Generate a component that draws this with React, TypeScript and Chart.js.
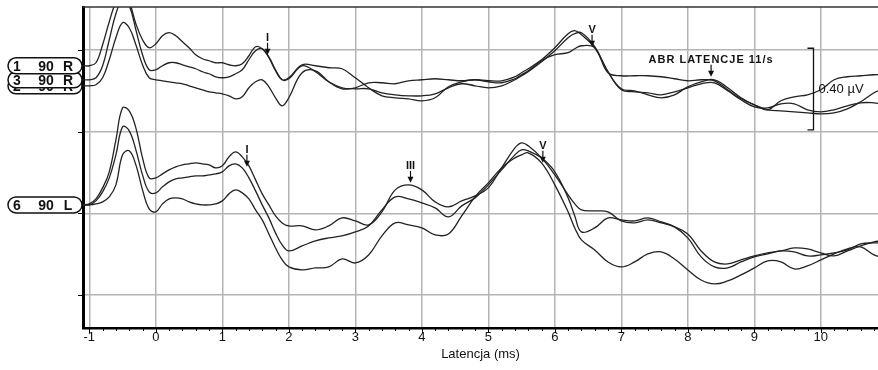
import React, { useEffect, useRef } from 'react';
import { Chart, registerables } from 'chart.js';

Chart.register(...registerables);

// Latency axis (ms) shared by every trace
const LATENCY_MS = [
  -1.1, -1.0, -0.9, -0.8, -0.7, -0.6, -0.5, -0.4, -0.3, -0.2, -0.1, 0,
  0.1, 0.2, 0.3, 0.4, 0.5, 0.6, 0.7, 0.8, 0.9, 1.0, 1.1, 1.2, 1.3, 1.4, 1.5, 1.6, 1.7, 1.8, 1.9, 2.0,
  2.2, 2.4, 2.6, 2.8, 3.0, 3.2, 3.4, 3.6, 3.8, 4.0, 4.2, 4.4, 4.6, 4.8, 5.0, 5.2, 5.4, 5.5, 5.6, 5.8,
  6.0, 6.2, 6.3, 6.4, 6.6, 6.8, 7.0, 7.2, 7.4, 7.6, 7.8, 8.0, 8.2, 8.4, 8.6, 8.8, 9.0, 9.2, 9.4, 9.6,
  9.8, 10.0, 10.2, 10.4, 10.6, 10.8, 10.9,
];

// Amplitudes in display units (one grid division = 81.5 units = 0.40 µV), traces stacked with offsets
const TRACE_1_90R = [
  229, 229, 232, 250, 273, 293, 303, 293, 271, 255, 247, 251,
  259, 262, 259, 253, 247, 240, 236, 234, 232, 232, 230, 229, 231, 239, 248, 246, 237, 224, 215, 217,
  230, 229, 227, 226, 217, 207, 199, 197, 196, 194, 197, 208, 213, 215, 214, 214, 218, 222, 226, 235,
  247, 261, 264, 260, 247, 223, 206, 204, 200, 197, 200, 208, 213, 215, 207, 197, 190, 185, 194, 198,
  200, 205, 215, 218, 219, 220, 220,
];
const TRACE_3_90R = [
  215, 215, 217, 229, 255, 281, 295, 289, 265, 240, 225, 225,
  229, 232, 232, 230, 228, 226, 223, 221, 218, 217, 218, 221, 225, 235, 244, 246, 238, 225, 215, 216,
  229, 223, 213, 207, 206, 206, 202, 200, 199, 199, 201, 207, 211, 209, 207, 209, 215, 219, 223, 233,
  244, 257, 261, 262, 248, 223, 205, 203, 202, 200, 203, 207, 211, 212, 204, 195, 188, 187, 191, 191,
  185, 183, 185, 189, 192, 192, 191,
];
const TRACE_2_90R = [
  209, 209, 210, 217, 235, 257, 272, 267, 250, 230, 217, 215,
  214, 213, 212, 211, 209, 207, 205, 203, 202, 201, 199, 196, 198, 207, 213, 215, 208, 197, 189, 197,
  222, 224, 213, 206, 207, 212, 212, 211, 214, 215, 216, 215, 214, 215, 213, 212, 216, 220, 224, 234,
  240, 242, 246, 249, 247, 222, 219, 219, 219, 218, 216, 214, 215, 214, 205, 196, 190, 185, 184, 183,
  182, 181, 182, 186, 193, 202, 205,
];
const TRACE_6_90L_A = [
  90, 91, 96, 107, 123, 155, 187, 184, 167, 137, 117, 117,
  121, 125, 128, 130, 131, 132, 131, 130, 127, 129, 138, 143, 138, 129, 115, 101, 90, 79, 72, 69,
  69, 65, 69, 77, 74, 70, 83, 105, 110, 105, 93, 88, 94, 99, 107, 127, 147, 152, 149, 137,
  120, 100, 91, 85, 84, 83, 74, 72, 75, 72, 68, 61, 44, 33, 31, 35, 39, 42, 44, 47,
  46, 42, 39, 44, 49, 53, 54,
];
const TRACE_6_90L_B = [
  90, 90, 94, 103, 117, 140, 168, 164, 145, 120, 103, 102,
  108, 113, 116, 117, 118, 119, 119, 120, 121, 123, 129, 131, 127, 117, 104, 90, 77, 62, 50, 44,
  49, 54, 57, 59, 63, 69, 85, 98, 96, 92, 87, 78, 89, 97, 110, 125, 140, 145, 144, 137,
  123, 97, 79, 63, 67, 77, 75, 74, 77, 73, 68, 57, 38, 28, 27, 33, 38, 41, 44, 43,
  39, 40, 42, 45, 51, 52, 52,
];
const TRACE_6_90L_C = [
  90, 90, 91, 93, 98, 110, 140, 144, 130, 105, 86, 83,
  91, 96, 97, 96, 93, 91, 90, 90, 91, 94, 101, 105, 102, 96, 85, 75, 61, 47, 35, 28,
  25, 27, 28, 36, 32, 40, 59, 72, 70, 67, 60, 61, 79, 98, 112, 127, 137, 140, 142, 132,
  110, 83, 67, 55, 45, 33, 28, 33, 41, 43, 36, 25, 15, 11, 14, 20, 27, 34, 33, 26,
  29, 35, 41, 46, 48, 40, 38,
];

const UV_PER_UNIT = 0.4 / 81.5;
const X_MIN = -1.095;
const X_MAX = 10.86;
const X_TICKS = [-1, 0, 1, 2, 3, 4, 5, 6, 7, 8, 9, 10];
const Y_MIN_UNITS = -33;
const Y_MAX_UNITS = 287.7;
const Y_GRID_UV = [0, 0.4, 0.8, 1.2];

// Channel labels on the left
const CHANNEL_LABELS = [
  { parts: ['2', '90', 'R'], trace: TRACE_2_90R },
  { parts: ['3', '90', 'R'], trace: TRACE_3_90R },
  { parts: ['1', '90', 'R'], trace: TRACE_1_90R },
  { parts: ['6', '90', 'L'], trace: TRACE_6_90L_A },
];

// Wave markers: label, latency (ms), arrow tip amplitude (units)
const PEAK_MARKS = [
  { label: 'I', t: 1.68, v: 240 },
  { label: 'V', t: 6.56, v: 248 },
  { label: 'I', t: 1.37, v: 128 },
  { label: 'III', t: 3.83, v: 112 },
  { label: 'V', t: 5.82, v: 132 },
];
const NOTE = { text: 'ABR LATENCJE 11/s', t: 8.35, v: 218 };
const SCALE_BAR = { t: 9.88, fromUnits: 165, units: 81.5, text: '0.40 µV' };

const FONT = '"Liberation Sans", Arial, sans-serif';
const LINE_COLOR = '#222';

const overlay = {
  id: 'abrOverlay',
  afterDraw(chart: any) {
    const { ctx, chartArea, scales } = chart;
    const xs = scales.x;
    const ys = scales.y;
    const Y = (u: number) => ys.getPixelForValue(u * UV_PER_UNIT);
    ctx.save();
    // top border
    ctx.strokeStyle = '#333';
    ctx.lineWidth = 1.5;
    ctx.beginPath();
    ctx.moveTo(chartArea.left, chartArea.top);
    ctx.lineTo(chartArea.right, chartArea.top);
    ctx.stroke();
    // x ticks (major + minor)
    ctx.strokeStyle = '#000';
    ctx.lineWidth = 1;
    for (let i = -5; i <= 54; i++) {
      const t = i * 0.2;
      if (t < X_MIN || t > X_MAX) continue;
      const px = Math.round(xs.getPixelForValue(t)) + 0.5;
      const major = i % 5 === 0;
      ctx.beginPath();
      ctx.moveTo(px, chartArea.bottom);
      ctx.lineTo(px, chartArea.bottom + (major ? 5 : 3));
      ctx.stroke();
    }
    // y ticks at the grid levels
    Y_GRID_UV.forEach((v) => {
      const py = Math.round(ys.getPixelForValue(v)) + 0.5;
      ctx.beginPath();
      ctx.moveTo(chartArea.left - 5, py);
      ctx.lineTo(chartArea.left, py);
      ctx.stroke();
    });
    // channel labels
    CHANNEL_LABELS.forEach((lab) => {
      const cy = Y(lab.trace[0]);
      const left = 8, right = chartArea.left - 1, h = 16, r = 8;
      ctx.beginPath();
      ctx.moveTo(left + r, cy - h / 2);
      ctx.lineTo(right - r, cy - h / 2);
      ctx.arc(right - r, cy, r, -Math.PI / 2, Math.PI / 2);
      ctx.lineTo(left + r, cy + h / 2);
      ctx.arc(left + r, cy, r, Math.PI / 2, Math.PI * 1.5);
      ctx.closePath();
      ctx.fillStyle = '#fff';
      ctx.fill();
      ctx.strokeStyle = '#111';
      ctx.lineWidth = 1.5;
      ctx.stroke();
      ctx.fillStyle = '#111';
      ctx.font = `bold 14px ${FONT}`;
      ctx.textAlign = 'center';
      ctx.textBaseline = 'middle';
      const offs = [17, 46, 68];
      lab.parts.forEach((p, i) => ctx.fillText(p, offs[i], cy + 1));
    });
    // arrows
    const arrow = (px: number, tip: number) => {
      ctx.strokeStyle = '#111';
      ctx.lineWidth = 1.2;
      ctx.beginPath();
      ctx.moveTo(px, tip - 12);
      ctx.lineTo(px, tip - 4);
      ctx.stroke();
      ctx.fillStyle = '#111';
      ctx.beginPath();
      ctx.moveTo(px - 3, tip - 6);
      ctx.lineTo(px + 3, tip - 6);
      ctx.lineTo(px, tip);
      ctx.closePath();
      ctx.fill();
    };
    ctx.font = `bold 11px ${FONT}`;
    ctx.textAlign = 'center';
    ctx.textBaseline = 'middle';
    PEAK_MARKS.forEach((m) => {
      const px = xs.getPixelForValue(m.t);
      const tip = Y(m.v);
      ctx.fillStyle = '#111';
      ctx.fillText(m.label, px, tip - 17);
      arrow(px, tip);
    });
    {
      const px = xs.getPixelForValue(NOTE.t);
      const tip = Y(NOTE.v);
      ctx.font = `bold 11px ${FONT}`;
      (ctx as any).letterSpacing = '1px';
      ctx.fillStyle = '#111';
      ctx.fillText(NOTE.text, px, tip - 17);
      (ctx as any).letterSpacing = '0px';
      arrow(px, tip);
    }
    // scale bar
    {
      const px = Math.round(xs.getPixelForValue(SCALE_BAR.t)) + 0.5;
      const y0 = Y(SCALE_BAR.fromUnits);
      const y1 = Y(SCALE_BAR.fromUnits + SCALE_BAR.units);
      ctx.strokeStyle = '#111';
      ctx.lineWidth = 1.3;
      ctx.beginPath();
      ctx.moveTo(px - 6, y1);
      ctx.lineTo(px, y1);
      ctx.lineTo(px, y0);
      ctx.lineTo(px - 6, y0);
      ctx.stroke();
      ctx.font = `13px ${FONT}`;
      ctx.textAlign = 'left';
      ctx.fillStyle = '#111';
      ctx.fillText(SCALE_BAR.text, px + 5, (y0 + y1) / 2);
    }
    ctx.restore();
  },
};

const TRACES = [TRACE_1_90R, TRACE_3_90R, TRACE_2_90R, TRACE_6_90L_A, TRACE_6_90L_B, TRACE_6_90L_C];

export default function App() {
  const ref = useRef<HTMLCanvasElement | null>(null);
  useEffect(() => {
    document.body.style.margin = '0';
    const canvas = ref.current;
    if (!canvas) return;
    const chart = new Chart(canvas, {
      type: 'line',
      data: {
        datasets: TRACES.map((tr) => ({
          data: LATENCY_MS.map((t, i) => ({ x: t, y: tr[i] * UV_PER_UNIT })),
          borderColor: LINE_COLOR,
          borderWidth: 1.3,
          pointRadius: 0,
          tension: 0.4,
          fill: false,
        })),
      },
      options: {
        animation: false,
        responsive: false,
        maintainAspectRatio: false,
        events: [],
        layout: { padding: { left: 83, top: 7, right: 0, bottom: 0 } },
        plugins: { legend: { display: false }, tooltip: { enabled: false } },
        scales: {
          x: {
            type: 'linear',
            min: X_MIN,
            max: X_MAX,
            afterBuildTicks: (s: any) => {
              s.ticks = X_TICKS.map((v) => ({ value: v }));
            },
            afterFit: (s: any) => {
              s.height = 42;
            },
            ticks: {
              autoSkip: false,
              maxRotation: 0,
              padding: 1.5,
              color: '#111',
              font: { family: FONT, size: 13 },
              callback: (v: any) => String(v),
            },
            grid: { color: '#b4b4b4', lineWidth: 1.5, drawTicks: false },
            border: { display: true, color: '#000', width: 2.5 },
            title: {
              display: true,
              text: 'Latencja (ms)',
              color: '#111',
              font: { family: FONT, size: 13 },
              padding: { top: 8, bottom: 8 },
            },
          },
          y: {
            type: 'linear',
            min: Y_MIN_UNITS * UV_PER_UNIT,
            max: Y_MAX_UNITS * UV_PER_UNIT,
            afterBuildTicks: (s: any) => {
              s.ticks = Y_GRID_UV.map((v) => ({ value: v }));
            },
            afterFit: (s: any) => {
              s.width = 0;
            },
            ticks: { display: false },
            grid: { color: '#b4b4b4', lineWidth: 1.5, drawTicks: false },
            border: { display: true, color: '#000', width: 3 },
          },
        },
      },
      plugins: [overlay],
    });
    return () => chart.destroy();
  }, []);
  return (
    <div style={{ width: 878, height: 370, background: '#fff' }}>
      <canvas ref={ref} width={878} height={370} style={{ display: 'block', width: 878, height: 370 }} />
    </div>
  );
}
